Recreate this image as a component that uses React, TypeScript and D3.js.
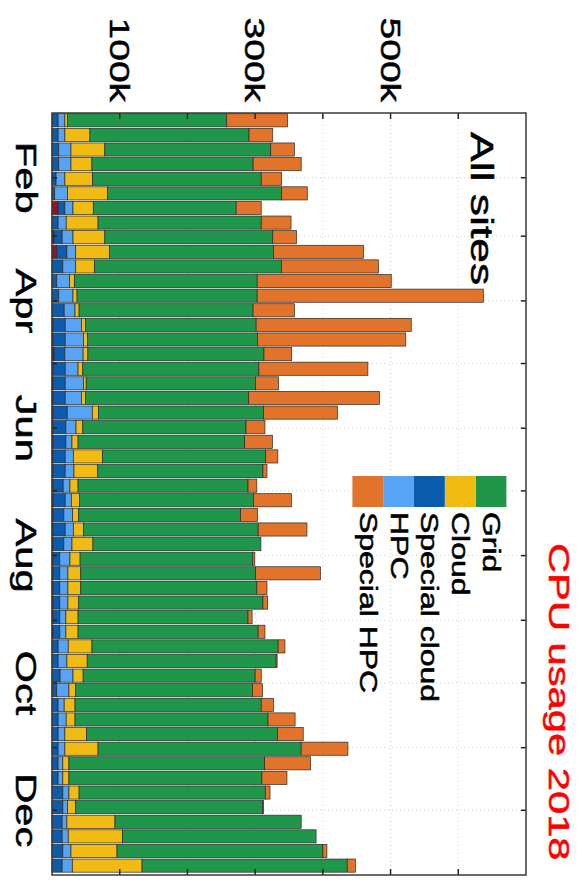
import React from "react";
import * as d3 from "d3";

// CPU usage 2018 (thousands), weekly, stacked from zero outward
const other = [0,0,0,0,0,0,9,0,3,7,0,0,0,0,1.5,1.5,3,1.5,1.5,1.5,1.5,1.5,1.5,1.5,1.5,1.5,1.5,1.5,1.5,1.5,1.5,1.5,1.5,1.5,1.5,1.5,0,0,0,0,0,0,0,0,0,0,0,0,0,0,0,0];
const specialCloud = [9,9,10,10,6,4,10,9,12,15,16,7,10,18,18,18,16,18,18,18,21,19,19,18,18,15,18,16,18,16,10,10,10,10,10,10,9,9,12,7,9,9,9,9,9,9,16,16,15,15,16,15];
const hpc = [10,10,18,18,13,19,12,12,16,13,19,19,21,16,24,27,27,19,27,24,37,15,9,12,13,10,9,13,12,12,15,12,12,12,9,9,15,13,19,18,9,12,10,10,7,7,9,7,7,9,12,15];
const cloud = [4,37,50,31,41,59,30,47,47,50,28,7,6,6,6,6,7,7,4,6,9,10,9,43,35,12,12,9,15,31,15,19,19,16,18,18,35,30,15,10,16,13,32,49,9,9,15,12,71,80,68,103];
const grid = [235,235,245,238,249,257,211,241,248,242,276,270,266,257,252,251,260,260,250,241,244,241,246,241,244,251,257,239,258,248,255,258,260,272,251,266,275,279,254,261,275,285,282,300,289,285,275,276,275,286,304,303];
const specialHpc = [90,35,35,71,30,38,37,44,35,133,143,198,334,61,229,219,41,161,34,193,109,28,41,18,6,13,56,25,72,0,3,96,15,7,6,10,10,1.5,9,15,18,40,38,69,68,37,7,1.5,0,0,6,12];

const seriesKeys = ["other", "specialCloud", "hpc", "cloud", "grid", "specialHpc"];
const seriesColors: Record<string, string> = {
  other: "#9b1022",
  specialCloud: "#0b5cad",
  hpc: "#57a3f5",
  cloud: "#f1bb14",
  grid: "#20964a",
  specialHpc: "#e1732a",
};
const legendKeys = ["grid", "cloud", "specialCloud", "hpc", "specialHpc"];
const legendLabels = ["Grid", "Cloud", "Special cloud", "HPC", "Special HPC"];

const valueTicks = [100, 200, 300, 400, 500, 600];
const valueLabelTicks = [100, 300, 500];
const valueLabels = ["100k", "300k", "500k"];
const monthLabelIdx = [1, 3, 5, 7, 9, 11];
const monthLabels = ["Feb", "Apr", "Jun", "Aug", "Oct", "Dec"];

const FONT = "'Liberation Sans', Arial, Helvetica, sans-serif";
const SY = 1.39;

const start = new Date(Date.UTC(2018, 0, 1));
const end = new Date(Date.UTC(2019, 0, 1));

function VText(props: {
  x: number; y: number; size: number; anchor?: string; dy?: string; fill?: string; children: React.ReactNode;
}) {
  const { x, y, size, anchor = "start", dy, fill = "#000", children } = props;
  return (
    <text
      transform={`translate(${x},${y}) scale(1,${SY}) rotate(90)`}
      fontSize={size}
      fontFamily={FONT}
      textAnchor={anchor}
      dy={dy}
      fill={fill}
      stroke={fill}
      strokeWidth={0.5}
    >
      {children}
    </text>
  );
}

export default function App() {
  const L = 52, R = 526, T = 113, B = 875;
  const x = d3.scaleLinear().domain([0, 700]).range([L, R]);
  const y = d3.scaleUtc().domain([start, end]).range([T, B]);

  const rows = grid.map((_, i) => ({
    date: d3.utcDay.offset(start, 7 * i),
    other: other[i],
    specialCloud: specialCloud[i],
    hpc: hpc[i],
    cloud: cloud[i],
    grid: grid[i],
    specialHpc: specialHpc[i],
  }));
  const stacked = d3.stack<any>().keys(seriesKeys)(rows);

  const months = d3.utcMonth.range(start, end).slice(1);

  const bars: React.ReactNode[] = [];
  stacked.forEach((layer) => {
    layer.forEach((d, i) => {
      if (d[1] - d[0] <= 0) return;
      const date = rows[i].date;
      const y0 = y(date);
      const y1 = y(d3.utcDay.offset(date, 7));
      const h = (y1 - y0) * 0.9;
      const yc = (y0 + y1) / 2;
      bars.push(
        <rect
          key={layer.key + i}
          x={x(d[0])}
          y={yc - h / 2}
          width={x(d[1]) - x(d[0])}
          height={h}
          fill={seriesColors[layer.key]}
          stroke="#2a2a2a"
          strokeWidth={0.7}
        />
      );
    });
  });

  return (
    <svg width={585} height={890} style={{ position: "absolute", left: 0, top: 0, background: "#fff" }}>
      <rect x={0} y={0} width={585} height={890} fill="#fff" />
      {/* grid */}
      <g stroke="#cccccc" strokeWidth={1} strokeDasharray="1,3">
        {valueTicks.map((v) => (
          <line key={"gv" + v} x1={x(v)} x2={x(v)} y1={T} y2={B} />
        ))}
        {months.map((m, i) => (
          <line key={"gm" + i} x1={L} x2={R} y1={y(m)} y2={y(m)} />
        ))}
      </g>
      {bars}
      {/* ticks */}
      <g stroke="#222" strokeWidth={1.5}>
        {valueTicks.map((v) => (
          <g key={"t" + v}>
            <line x1={x(v)} x2={x(v)} y1={T} y2={T + 6} />
            <line x1={x(v)} x2={x(v)} y1={B} y2={B - 6} />
          </g>
        ))}
        {months.map((m, i) => (
          <g key={"tm" + i}>
            <line x1={L} x2={L + 5} y1={y(m)} y2={y(m)} />
            <line x1={R} x2={R - 5} y1={y(m)} y2={y(m)} />
          </g>
        ))}
      </g>
      {/* frame */}
      <rect x={L} y={T} width={R - L} height={B - T} fill="none" stroke="#3a3a3a" strokeWidth={1.5} />
      {/* value labels (top) */}
      {valueLabelTicks.map((v, i) => (
        <VText key={"vl" + v} x={x(v)} y={102} size={28} anchor="end" dy="0.35em">
          {valueLabels[i]}
        </VText>
      ))}
      {/* month labels (left) */}
      {monthLabelIdx.map((mi, i) => (
        <VText key={"ml" + mi} x={16} y={y(new Date(Date.UTC(2018, mi, 1)))} size={30} anchor="middle">
          {monthLabels[i]}
        </VText>
      ))}
      {/* legend */}
      {legendKeys.map((k, i) => {
        const cx = 491 - i * 30.8;
        return (
          <g key={"lg" + k}>
            <rect x={cx - 15.4} y={476} width={30.8} height={31} fill={seriesColors[k]} />
            <VText x={cx} y={512} size={23} dy="0.35em">
              {legendLabels[i]}
            </VText>
          </g>
        );
      })}
      <VText x={471} y={132} size={32}>All sites</VText>
      <VText x={549} y={543} size={30} fill="#ff0000">CPU usage 2018</VText>
    </svg>
  );
}
